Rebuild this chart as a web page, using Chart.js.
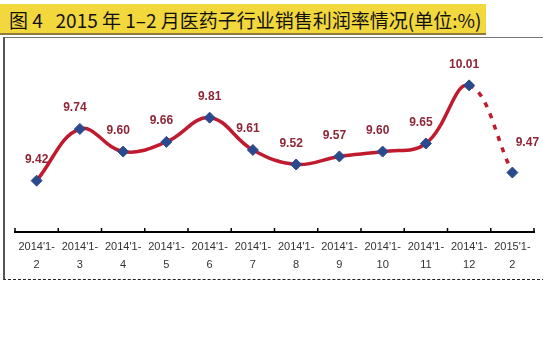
<!DOCTYPE html>
<html>
<head>
<meta charset="utf-8">
<script src="https://cdn.jsdelivr.net/npm/chart.js@4/dist/chart.umd.min.js"></script>
<style>
  html, body { margin:0; padding:0; background:#fff; }
  body { width:543px; height:357px; position:relative; overflow:hidden; }
  #title {
    position:absolute; left:0; top:4px; width:486px; height:31px;
    background:#f2d83c; border-bottom:2px solid #8c7b3a;
    font-family:"Noto Sans CJK SC", sans-serif; font-weight:400; font-size:19px;
    line-height:31px; color:#111; padding-left:9px; box-sizing:border-box; white-space:pre;
  }
  #box {
    position:absolute; left:3px; top:37px; width:540px; height:241px;
    border-left:2px solid #555; border-top:1px solid #777; border-bottom:1px dashed #222;
  }
  #wrap { position:absolute; left:0; top:0; width:540px; height:241px; }
</style>
</head>
<body>
<div id="title">图 4   2015 年 1–2 月医药子行业销售利润率情况(单位:%)</div>
<div id="box"><div id="wrap"><canvas id="chart"></canvas></div></div>
<script>
// data
const categories = [
    ["2014'1-","2"], ["2014'1-","3"], ["2014'1-","4"], ["2014'1-","5"],
    ["2014'1-","6"], ["2014'1-","7"], ["2014'1-","8"], ["2014'1-","9"],
    ["2014'1-","10"], ["2014'1-","11"], ["2014'1-","12"], ["2015'1-","2"]
];
const profitRate = [9.42, 9.74, 9.60, 9.66, 9.81, 9.61, 9.52, 9.57, 9.60, 9.65, 10.01, 9.47];

const LINE_RED = "#c01a2e";
const MARKER_BLUE = "#2b4a8e";
const LABEL_RED = "#8e2636";

// value labels above the points
const valueLabels = {
    id:"valueLabels",
    afterDatasetsDraw(chart){
        const ctx = chart.ctx;
        const meta = chart.getDatasetMeta(0);
        ctx.save();
        ctx.font = "bold 12px Arial, 'Liberation Sans', sans-serif";
        ctx.fillStyle = LABEL_RED;
        ctx.textAlign = "center";
        ctx.textBaseline = "middle";
        meta.data.forEach((pt, i)=>{
            let dx = -5, dy = -21;
            if(i === 0 || i === 4) dx = 0;
            if(i === meta.data.length-1){ dx = 15; dy = -30; }
            ctx.fillText(profitRate[i].toFixed(2), pt.x + dx, pt.y + dy);
        });
        ctx.restore();
    }
};

// small upward ticks at category boundaries
const innerTicks = {
    id:"innerTicks",
    afterDraw(chart){
        const sx = chart.scales.x;
        const ctx = chart.ctx;
        const n = categories.length;
        const y = chart.chartArea.bottom;
        ctx.save();
        ctx.strokeStyle = "#000";
        ctx.lineWidth = 1.5;
        for(let i=0;i<=n;i++){
            let x;
            if(i===0) x = sx.left;
            else if(i===n) x = sx.right;
            else x = (sx.getPixelForValue(i-1) + sx.getPixelForValue(i)) / 2;
            ctx.beginPath();
            ctx.moveTo(x, y);
            ctx.lineTo(x, y-4);
            ctx.stroke();
        }
        ctx.restore();
    }
};

new Chart(document.getElementById("chart"), {
    type:"line",
    data:{
        labels: categories,
        datasets:[{
            data: profitRate,
            borderColor: LINE_RED,
            borderWidth: 3.5,
            tension: 0.4,
            pointStyle: "rectRot",
            pointRadius: 5.5,
            pointBackgroundColor: MARKER_BLUE,
            pointBorderColor: MARKER_BLUE,
            pointBorderWidth: 1,
            segment:{
                borderDash: c => c.p0DataIndex === profitRate.length-2 ? [5,7] : undefined
            }
        }]
    },
    options:{
        responsive:true, maintainAspectRatio:false, animation:false,
        layout:{ padding:{ left:10, right:11, top:7, bottom:0 } },
        plugins:{ legend:{ display:false }, tooltip:{ enabled:false } },
        scales:{
            x:{
                offset:true,
                grid:{ display:false, drawTicks:false },
                border:{ display:true, color:"#000", width:2 },
                ticks:{
                    color:"#333", padding:6, maxRotation:0, autoSkip:false,
                    font:{ family:"Arial, 'Liberation Sans', sans-serif", size:11, lineHeight:1.65 }
                },
                afterFit(scale){ scale.height = 47; }
            },
            y:{
                display:false,
                min:9.102, max:10.26
            }
        }
    },
    plugins:[valueLabels, innerTicks]
});
</script>
</body>
</html>
